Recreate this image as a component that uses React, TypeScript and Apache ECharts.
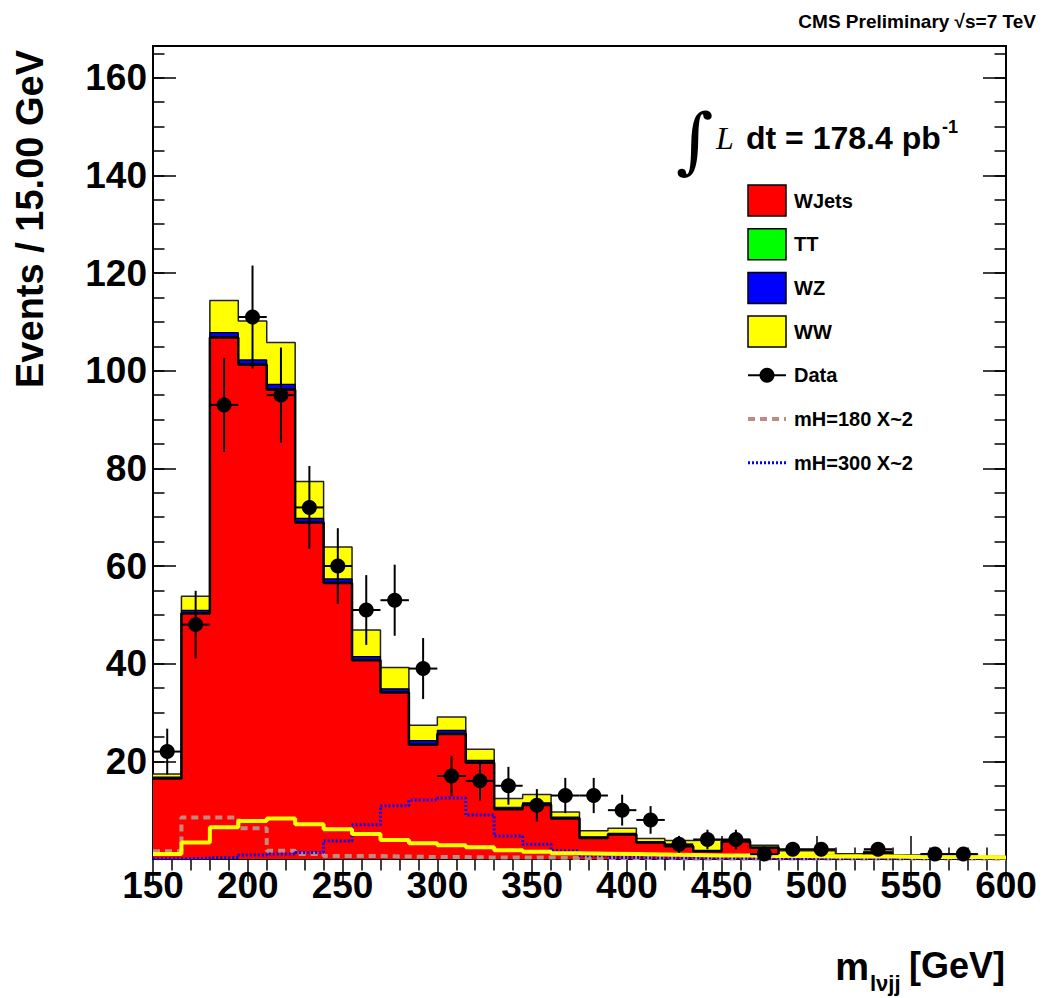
import React, { useEffect, useRef } from "react";
import * as echarts from "echarts";

// ---- binning / axes ----
const binLow = 150;
const binWidth = 15;
const nBins = 30;
const xMin = 150;
const xMax = 600;
const yMin = 0;
const yMax = 166.5;
const xTickLabels = [150, 200, 250, 300, 350, 400, 450, 500, 550, 600];
const yTickLabels = [20, 40, 60, 80, 100, 120, 140, 160];

// ---- stacked backgrounds (events / 15 GeV) ----
const wjets = [16.5, 50.3, 106.8, 101.2, 96.1, 68.9, 56.5, 40.7, 34.1, 23.4, 25.6, 19.7, 10.2, 11.1, 8.3, 4.3, 5.0, 3.4, 2.6, 1.6, 3.6, 2.3, 0.5, 0.6, 0.5, 1.2, 0.3, 0.4, 0.5, 0.2];
const ttbar = [0.05, 0.1, 0.2, 0.2, 0.2, 0.15, 0.15, 0.15, 0.15, 0.15, 0.15, 0.1, 0.1, 0.1, 0.1, 0.05, 0.05, 0.05, 0.05, 0.05, 0.05, 0.05, 0.05, 0.05, 0.05, 0.05, 0.05, 0.05, 0.05, 0.05];
const wz = [0.2, 0.5, 0.8, 0.8, 0.9, 0.7, 0.7, 0.6, 0.6, 0.7, 0.6, 0.4, 0.3, 0.3, 0.2, 0.2, 0.2, 0.1, 0.1, 0.1, 0.1, 0.1, 0.05, 0.05, 0.05, 0.05, 0.05, 0.05, 0.05, 0.05];
const ww = [0.65, 2.9, 6.6, 8.0, 8.6, 7.55, 6.55, 5.45, 4.35, 3.15, 2.75, 2.3, 1.8, 1.7, 1.0, 1.25, 1.05, 0.65, 1.05, 2.15, 0.25, 0.35, 1.1, 1.0, 0.5, 0.3, 0.4, 0.5, 0.4, 0.2];

// ---- data ----
const dataCounts = [22, 48, 93, 111, 95, 72, 60, 51, 53, 39, 17, 16, 15, 11, 13, 13, 10, 8, 3, 4, 4, 1, 2, 2, 0, 2, 0, 1, 1, 0];

// ---- signals ----
const mh180 = [1.6, 8.5, 8.5, 6.3, 1.7, 1.0, 0.6, 0.6, 0.5, 0.4, 0.4, 0.3, 0.3, 0.3, 0.2, 0.2, 0.2, 0.2, 0.1, 0.1, 0.1, 0.1, 0.1, 0.1, 0.1, 0.1, 0.1, 0.1, 0.1, 0.1];
const mh300 = [0.05, 0.15, 0.3, 0.8, 1.0, 1.35, 3.7, 7.0, 10.9, 12.1, 12.5, 9.0, 4.7, 3.0, 1.7, 0.65, 0.3, 0.2, 0.2, 0.2, 0.15, 0.15, 0.1, 0.1, 0.1, 0.1, 0.1, 0.1, 0.1, 0.1];
const signalYellow = [1.0, 3.4, 6.5, 7.8, 8.3, 7.1, 6.1, 5.1, 3.9, 3.2, 2.8, 2.4, 1.8, 1.5, 1.2, 1.1, 1.0, 0.9, 0.8, 0.7, 0.7, 0.6, 0.6, 0.5, 0.5, 0.5, 0.4, 0.4, 0.4, 0.3];

const legendLabels = ["WJets", "TT", "WZ", "WW", "Data", "mH=180 X~2", "mH=300 X~2"];
const legendColors = ["#ff0000", "#00ff00", "#0000ff", "#ffff00"];

const SANS = "'Liberation Sans', Arial, Helvetica, sans-serif";
const SERIF = "'Liberation Serif', 'Times New Roman', serif";

const edges = Array.from({ length: nBins + 1 }, (_, i) => binLow + i * binWidth);
const stepData = (vals: number[]) => [
  ...vals.map((v, i) => [edges[i], v]),
  [edges[nBins], vals[nBins - 1]],
];
const addArr = (a: number[], b: number[]) => a.map((v, i) => v + b[i]);

const cumWJ = wjets;
const cumTT = addArr(cumWJ, ttbar);
const cumWZ = addArr(cumTT, wz);
const cumWW = addArr(cumWZ, ww);

const dataPoints = dataCounts
  .map((n, i) => [binLow + (i + 0.5) * binWidth, n])
  .filter((p) => p[1] > 0);

function histSeries(name: string, vals: number[], fill: string, lineColor: string, lineWidth: number) {
  return {
    name,
    type: "line",
    step: "end",
    data: stepData(vals),
    symbol: "none",
    showSymbol: false,
    lineStyle: { color: lineColor, width: lineWidth },
    areaStyle: { color: fill, opacity: 1 },
    itemStyle: { color: fill },
    z: 2,
  };
}

function signalSeries(name: string, vals: number[], color: string, width: number, type: any) {
  return {
    name,
    type: "line",
    step: "end",
    data: stepData(vals),
    symbol: "none",
    showSymbol: false,
    lineStyle: { color, width, type },
    z: 3,
  };
}

const tickStyle = { color: "#000", width: 1.5 };

function buildOption() {
  const legendTop = 200.5;
  const legendGap = 43.7;
  const boxX = 748;
  const boxW = 38;
  const boxH = 31;
  const textX = 794;
  const legendEls: any[] = [];
  legendLabels.forEach((lab, i) => {
    const cy = legendTop + i * legendGap;
    if (i < 4) {
      legendEls.push({
        type: "rect",
        shape: { x: boxX, y: cy - boxH / 2, width: boxW, height: boxH },
        style: { fill: legendColors[i], stroke: "#000", lineWidth: 1.5 },
      });
    } else if (i === 4) {
      legendEls.push({
        type: "line",
        shape: { x1: boxX, y1: cy, x2: boxX + boxW, y2: cy },
        style: { stroke: "#000", lineWidth: 2 },
      });
      legendEls.push({
        type: "circle",
        shape: { cx: boxX + boxW / 2, cy, r: 7.5 },
        style: { fill: "#000" },
      });
    } else if (i === 5) {
      legendEls.push({
        type: "line",
        shape: { x1: boxX, y1: cy, x2: boxX + boxW, y2: cy },
        style: { stroke: "#c08a80", lineWidth: 4, lineDash: [7, 5] },
      });
    } else {
      legendEls.push({
        type: "line",
        shape: { x1: boxX, y1: cy, x2: boxX + boxW, y2: cy },
        style: { stroke: "#0000ff", lineWidth: 3, lineDash: [2, 2] },
      });
    }
    legendEls.push({
      type: "text",
      x: textX,
      y: cy,
      style: {
        text: lab,
        font: `bold 20px ${SANS}`,
        fill: "#000",
        align: "left",
        verticalAlign: "middle",
      },
    });
  });

  const graphics: any[] = [
    // CMS label
    {
      type: "text",
      x: 1036,
      y: 21,
      style: { text: "CMS Preliminary \u221As=7 TeV", font: `bold 19px ${SANS}`, fill: "#000", align: "right", verticalAlign: "middle" },
    },
    // luminosity
    {
      type: "text",
      x: 676,
      y: 140,
      style: { text: "\u222B", font: `72px 'DejaVu Serif', ${SERIF}`, fill: "#000", align: "left", verticalAlign: "middle" },
    },
    {
      type: "text",
      x: 716,
      y: 138,
      style: { text: "L", font: `italic 32px ${SERIF}`, fill: "#000", align: "left", verticalAlign: "middle" },
    },
    {
      type: "text",
      x: 746,
      y: 138,
      style: { text: "dt = 178.4 pb", font: `bold 32px ${SANS}`, fill: "#000", align: "left", verticalAlign: "middle" },
    },
    {
      type: "text",
      x: 942,
      y: 127,
      style: { text: "-1", font: `bold 18px ${SANS}`, fill: "#000", align: "left", verticalAlign: "middle" },
    },
    // y title
    {
      type: "text",
      x: 30,
      y: 219,
      rotation: Math.PI / 2,
      style: { text: "Events / 15.00 GeV", font: `bold 38px ${SANS}`, fill: "#000", align: "center", verticalAlign: "middle" },
    },
    // x title
    {
      type: "text",
      x: 1005,
      y: 965,
      style: { text: "[GeV]", font: `bold 36px ${SANS}`, fill: "#000", align: "right", verticalAlign: "middle" },
    },
    {
      type: "text",
      x: 870,
      y: 983,
      style: { text: "l\u03BDjj", font: `bold 22px ${SANS}`, fill: "#000", align: "left", verticalAlign: "middle" },
    },
    {
      type: "text",
      x: 869,
      y: 967,
      style: { text: "m", font: `bold 38px ${SANS}`, fill: "#000", align: "right", verticalAlign: "middle" },
    },
    ...legendEls,
  ];

  const majorX = (position: string, showLabel: boolean) => ({
    type: "value",
    position,
    min: xMin,
    max: xMax,
    interval: 50,
    axisLine: { show: true, lineStyle: { color: "#000", width: 2 } },
    axisTick: { show: true, inside: true, length: 23, lineStyle: tickStyle },
    minorTick: { show: true, splitNumber: 5, length: 11.5, lineStyle: tickStyle },
    splitLine: { show: false },
    minorSplitLine: { show: false },
    axisLabel: {
      show: showLabel,
      margin: 8,
      fontFamily: SANS,
      fontWeight: "bold",
      fontSize: 37,
      color: "#000",
      formatter: (v: number) => (xTickLabels.includes(v) ? String(v) : ""),
    },
  });

  const yAxisDef = (position: string, interval: number, tickLen: number, showLabel: boolean) => ({
    type: "value",
    position,
    min: yMin,
    max: yMax,
    interval,
    axisLine: { show: true, lineStyle: { color: "#000", width: 2 } },
    axisTick: { show: true, inside: true, length: tickLen, lineStyle: tickStyle },
    splitLine: { show: false },
    axisLabel: {
      show: showLabel,
      margin: 6,
      fontFamily: SANS,
      fontWeight: "bold",
      fontSize: 37,
      color: "#000",
      formatter: (v: number) => (yTickLabels.includes(v) ? String(v) : ""),
    },
  });

  return {
    animation: false,
    backgroundColor: "#fff",
    grid: {
      left: 153,
      right: 39,
      top: 46,
      bottom: 139,
      show: true,
      borderColor: "#000",
      borderWidth: 2,
      backgroundColor: "transparent",
    },
    xAxis: [majorX("bottom", true), majorX("top", false)],
    yAxis: [
      yAxisDef("left", 20, 23, true),
      yAxisDef("right", 20, 23, false),
      yAxisDef("left", 5, 11.5, false),
      yAxisDef("right", 5, 11.5, false),
    ],
    graphic: graphics,
    series: [
      histSeries("WW", cumWW, "#ffff00", "#222", 1.5),
      histSeries("WZ", cumWZ, "#0000ff", "#000", 1.2),
      histSeries("TT", cumTT, "#00ff00", "#000", 1),
      histSeries("WJets", cumWJ, "#ff0000", "#000", 2.5),
      signalSeries("mH=180 X~2", mh180, "#c08a80", 4, [7, 5]),
      signalSeries("mH=300 X~2", mh300, "#0000ff", 3, [2, 2]),
      signalSeries("signal", signalYellow, "#ffff00", 4, "solid"),
      {
        name: "Data",
        type: "custom",
        data: dataPoints,
        z: 5,
        renderItem: (params: any, api: any) => {
          const x = api.value(0) as number;
          const n = api.value(1) as number;
          const e = Math.sqrt(n);
          const c = api.coord([x, n]);
          const lo = api.coord([x, n - e]);
          const hi = api.coord([x, n + e]);
          const l = api.coord([x - binWidth / 2, n]);
          const r = api.coord([x + binWidth / 2, n]);
          return {
            type: "group",
            children: [
              { type: "line", shape: { x1: lo[0], y1: lo[1], x2: hi[0], y2: hi[1] }, style: { stroke: "#000", lineWidth: 2 } },
              { type: "line", shape: { x1: l[0], y1: l[1], x2: r[0], y2: r[1] }, style: { stroke: "#000", lineWidth: 2 } },
              { type: "circle", shape: { cx: c[0], cy: c[1], r: 7.5 }, style: { fill: "#000" } },
            ],
          };
        },
      },
    ],
  };
}

export default function App() {
  const ref = useRef<HTMLDivElement>(null);
  useEffect(() => {
    if (!ref.current) return;
    const chart = echarts.init(ref.current, null, { renderer: "svg" });
    chart.setOption(buildOption() as any);
    return () => chart.dispose();
  }, []);
  return (
    <div
      ref={ref}
      style={{ position: "fixed", left: 0, top: 0, width: 1045, height: 998, background: "#fff" }}
    />
  );
}
